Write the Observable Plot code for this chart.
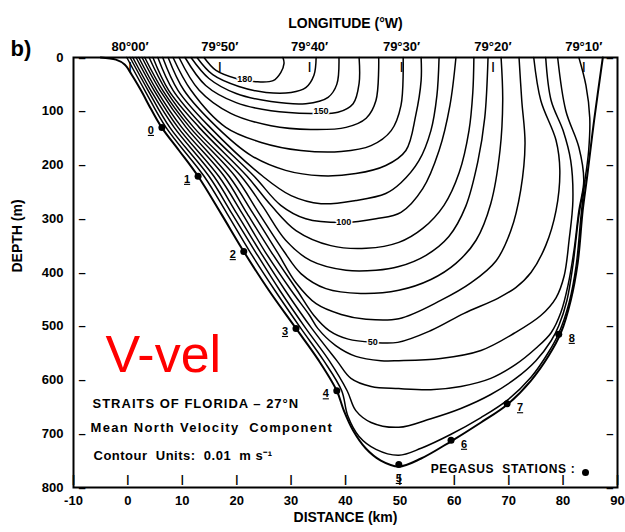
<!DOCTYPE html>
<html><head><meta charset="utf-8">
<script src="https://cdn.jsdelivr.net/npm/d3@7"></script>
<script src="https://cdn.jsdelivr.net/npm/@observablehq/plot@0.6"></script>
<style>
body{margin:0;background:#fff}
.stn text{text-decoration:underline}
.ls1 text{letter-spacing:1px}
.ls2 text{letter-spacing:1.3px}
.ls3 text{letter-spacing:0.5px}
.ls4 text{letter-spacing:0.7px}
</style></head><body><div id="chart"></div>
<script>
// Axis ticks
const distanceTicks = [-10, 0, 10, 20, 30, 40, 50, 60, 70, 80, 90];
const depthTicks = [0, 100, 200, 300, 400, 500, 600, 700, 800];
const lonLabels = ["80°00′", "79°50′", "79°40′", "79°30′", "79°20′", "79°10′"];
const lonKm = [0.4, 16.9, 33.4, 50.3, 67.1, 83.8];

// Bottom profile [distance km, depth m]
const bottom = [[-5.0,0],[-2.2,4],[-0.6,13],[0.7,32],[2.4,61],[4.2,95],[6.2,130],[9.4,173],[12.9,221],[17.1,290],[21.3,361],[25.9,433],[30.9,504],[35.1,564],[38.4,620],[39.7,657],[41.4,694],[43.7,727],[46.5,750],[49.8,761],[53.9,746],[59.4,714],[64.9,679],[69.7,646],[74.1,601],[77.4,554],[79.6,512],[81.4,452],[82.7,381],[83.6,285],[84.4,223],[85.7,117],[87.3,0]];

// Contours of mean north velocity (0.01 m/s), [distance km, depth m]
const c10 = [[-0.2,0],[3.1,61],[7.0,130],[14.0,221],[18.2,290],[22.4,361],[27.0,433],[31.8,504],[36.0,564],[39.3,620],[40.4,666],[42.5,705],[45.6,729],[49.8,740],[53.9,727],[59.4,701],[64.9,670],[69.7,638],[74.1,595],[77.4,547],[79.2,513],[81.1,456],[82.4,387],[83.3,294],[84.0,229]];
const c20 = [[0.4,0],[3.7,61],[7.7,130],[14.9,221],[19.1,290],[23.4,361],[27.9,433],[32.7,504],[37.0,564],[40.3,620],[41.9,657],[44.7,679],[49.8,688],[55.7,672],[61.2,653],[66.7,627],[71.3,597],[75.0,564],[77.8,527],[79.2,499],[80.7,452],[81.8,387],[82.9,294],[84.0,229],[84.7,173],[84.9,112],[84.2,52],[82.9,0]];
const c30 = [[0.9,0],[4.2,61],[8.5,130],[15.8,221],[20.0,290],[24.3,361],[28.9,433],[33.8,504],[38.4,564],[41.0,597],[44.7,612],[49.8,616],[55.7,618],[61.2,612],[66.7,597],[71.3,571],[75.0,541],[77.8,512],[79.6,474],[80.9,424],[82.0,359],[82.9,285],[83.8,229],[82.9,167],[80.5,99],[79.0,0]];
const c40 = [[1.5,0],[4.8,61],[9.2,130],[16.7,221],[21.0,290],[25.2,361],[30.0,433],[33.4,480],[34.9,504],[38.2,536],[41.9,556],[46.5,564],[49.8,564],[57.5,560],[64.9,545],[71.0,513],[75.9,480],[78.7,447],[80.2,406],[81.1,340],[81.8,266],[81.4,192],[80.0,136],[77.8,80],[76.8,0]];
const c50 = [[2.0,0],[5.3,61],[9.9,130],[17.7,221],[21.9,290],[26.3,361],[31.1,433],[34.2,480],[37.0,508],[40.5,524],[45.0,530],[49.6,530],[55.7,508],[61.8,476],[68.0,448],[71.3,428],[74.1,400],[76.8,350],[78.7,285],[79.4,210],[78.7,154],[75.9,80],[74.6,0]];
const c60 = [[2.6,0],[5.9,61],[10.7,130],[18.6,221],[23.0,290],[27.4,361],[30.9,419],[34.6,458],[39.2,478],[43.8,487],[49.8,486],[57.5,452],[63.1,419],[67.7,378],[70.4,322],[72.2,247],[73.0,160],[72.4,80],[71.9,0]];
const c70 = [[3.1,0],[6.4,61],[11.4,130],[19.7,221],[24.1,290],[28.7,361],[31.8,402],[36.4,430],[42.8,439],[49.8,433],[55.7,413],[60.3,383],[64.0,340],[66.7,272],[68.4,173],[68.9,80],[68.6,0]];
const c80 = [[3.9,0],[7.0,61],[12.1,130],[20.8,221],[24.8,277],[29.0,340],[33.6,378],[40.1,396],[45.6,396],[49.8,389],[54.8,368],[59.0,333],[62.1,277],[64.3,195],[65.6,112],[66.2,0]];
const c90 = [[4.6,0],[7.5,61],[13.1,130],[21.9,221],[26.3,275],[30.9,322],[37.3,350],[43.8,355],[49.8,344],[54.2,318],[58.1,275],[60.9,214],[62.7,136],[63.4,65],[63.6,0]];
const c100 = [[5.5,0],[8.3,61],[14.0,130],[23.2,221],[28.1,275],[32.7,300],[39.7,307],[45.6,300],[50.2,288],[54.2,244],[57.2,173],[59.2,89],[60.3,0]];
const c110 = [[6.4,0],[9.2,61],[15.1,130],[24.8,221],[30.0,257],[35.5,272],[41.9,266],[47.4,253],[50.2,233],[53.5,192],[55.7,136],[56.8,71],[57.2,0]];
const c120 = [[7.4,0],[10.3,61],[16.4,130],[22.6,182],[29.0,210],[35.5,220],[41.9,216],[47.4,201],[51.1,173],[52.9,108],[53.9,43],[53.9,0]];
const c130 = [[8.3,0],[11.6,61],[18.0,130],[24.5,158],[31.8,173],[39.2,175],[44.7,164],[48.4,136],[50.2,89],[50.6,0]];
const c140 = [[9.4,0],[13.1,61],[18.9,104],[26.3,127],[33.6,134],[40.1,130],[43.8,113],[45.6,80],[46.1,0]];
const c150 = [[10.5,0],[14.3,52],[19.9,84],[26.3,99],[33.6,104],[38.6,102],[41.4,86],[42.5,48],[42.5,0]];
const c160 = [[11.6,0],[14.9,39],[19.9,67],[26.3,82],[32.7,86],[36.8,74],[38.4,50],[38.8,0]];
const c170 = [[12.7,0],[15.6,32],[20.4,54],[25.4,65],[30.0,65],[32.7,56],[34.2,33],[34.6,0]];
const c180 = [[14.0,0],[16.2,24],[19.9,39],[23.5,45],[26.7,43],[28.1,28],[28.7,11],[28.5,0]];
const contourLevels = [10,20,30,40,50,60,70,80,90,100,110,120,130,140,150,160,170,180];
const contourLines = [c10,c20,c30,c40,c50,c60,c70,c80,c90,c100,c110,c120,c130,c140,c150,c160,c170,c180];

// Contour labels
const labelText = ["180", "150", "100", "50"];
const labelKm = [21.5, 35.5, 39.7, 45.0];
const labelDepth = [40, 100, 307, 530];

// Pegasus stations
const stationNames = [0,1,2,3,4,5,6,7,8];
const stationKm = [6.25, 12.9, 21.3, 30.9, 38.4, 49.8, 59.4, 69.7, 79.2];
const stationDepth = [130, 221, 361, 504, 620, 757, 712, 644, 515];

// Build tables
const contourRows = contourLines.flatMap((pts, i) => pts.map(([km, m]) => ({level: contourLevels[i], km, m})));
const bottomRows = bottom.map(([km, m]) => ({km, m}));
const labels = labelText.map((t, i) => ({t, km: labelKm[i], m: labelDepth[i]}));
const stations = stationNames.map((n, i) => ({n, km: stationKm[i], m: stationDepth[i]}));
const lonMap = new Map(lonKm.map((k, i) => [k, lonLabels[i]]));
const xTickRows = distanceTicks.map(v => ({v}));
const lonTickRows = lonKm.map(v => ({v}));
const yTickRows = depthTicks.map(v => ({v}));

const txt = (s, o) => Plot.text([s], {text: d => d, fontWeight: "bold", ...o});
const axisFont = {fontSize: 13, fontWeight: "bold"};

const chart = Plot.plot({
  width: 625, height: 532,
  marginLeft: 73, marginRight: 8, marginTop: 57, marginBottom: 45,
  x: {domain: [-10, 90]},
  y: {domain: [0, 800], reverse: true},
  style: {fontFamily: "'Liberation Sans', Arial, sans-serif", fontSize: "12px", background: "white", color: "black"},
  marks: [
    Plot.line(contourRows, {x: "km", y: "m", z: "level", curve: "catmull-rom", stroke: "black", strokeWidth: 1.5}),
    Plot.line(bottomRows, {x: "km", y: "m", curve: "catmull-rom", stroke: "black", strokeWidth: 2}),
    Plot.text(labels, {x: "km", y: "m", text: "t", fontSize: 9, fontWeight: "bold", stroke: "white", strokeWidth: 3, fill: "black"}),
    Plot.dot(stations, {x: "km", y: "m", r: 3.5, fill: "black"}),
    Plot.text(stations, {filter: d => d.n <= 4, x: "km", y: "m", text: "n", dx: -11, dy: 3, fontSize: 11, fontWeight: "bold", className: "stn"}),
    Plot.text(stations, {filter: d => d.n === 5, x: "km", y: "m", text: "n", dy: 14, fontSize: 11, fontWeight: "bold", className: "stn"}),
    Plot.text(stations, {filter: d => d.n >= 6, x: "km", y: "m", text: "n", dx: 13, dy: 4, fontSize: 11, fontWeight: "bold", className: "stn"}),
    // inward tick marks drawn as short dashes anchored at axis values
    Plot.text(xTickRows, {x: "v", frameAnchor: "bottom", text: () => "|", dy: -5, fontSize: 11, fontWeight: "bold"}),
    Plot.text(lonTickRows, {x: "v", frameAnchor: "top", text: () => "|", dy: 5, fontSize: 11, fontWeight: "bold"}),
    Plot.text(yTickRows, {y: "v", frameAnchor: "left", text: () => "–", dx: 5, textAnchor: "start", fontSize: 13, fontWeight: "bold"}),
    Plot.text(yTickRows, {y: "v", frameAnchor: "right", text: () => "–", dx: -4, fontSize: 13, fontWeight: "bold"}),
    Plot.frame({strokeWidth: 2}),
    // tick labels
    Plot.axisX({anchor: "bottom", ticks: distanceTicks, tickFormat: d => String(d), tickSize: 0, tickPadding: 8, label: null, ...axisFont}),
    Plot.axisX({anchor: "top", ticks: lonKm, tickFormat: d => lonMap.get(d), tickSize: 0, tickPadding: 7, label: null, ...axisFont}),
    Plot.axisY({anchor: "left", ticks: depthTicks, tickSize: 0, tickPadding: 10, label: null, ...axisFont}),
    txt("LONGITUDE (°W)", {frameAnchor: "top", dy: -39, fontSize: 14}),
    txt("DISTANCE (km)", {frameAnchor: "bottom", dy: 34, fontSize: 14}),
    txt("DEPTH (m)", {frameAnchor: "left", dx: -56, rotate: -90, fontSize: 14}),
    txt("b)", {frameAnchor: "top-left", dx: -63, dy: -17, fontSize: 22, textAnchor: "start"}),
    txt("STRAITS OF FLORIDA – 27°N", {frameAnchor: "bottom-left", dx: 19, dy: -80, fontSize: 13, textAnchor: "start", className: "ls1"}),
    txt("Mean North Velocity  Component", {frameAnchor: "bottom-left", dx: 17, dy: -56, fontSize: 13, textAnchor: "start", className: "ls2"}),
    txt("Contour  Units:  0.01  m s⁻¹", {frameAnchor: "bottom-left", dx: 20, dy: -28, fontSize: 13, textAnchor: "start", className: "ls3"}),
    txt("PEGASUS  STATIONS :", {frameAnchor: "bottom-right", dx: -42, dy: -15, fontSize: 12, textAnchor: "end", className: "ls4"}),
    Plot.dot([0], {frameAnchor: "bottom-right", dx: -32, dy: -15, r: 3.5, fill: "black"}),
    Plot.text(["V-vel"], {text: d => d, frameAnchor: "top-left", dx: 32, dy: 278, fontSize: 52, fill: "red", textAnchor: "start", fontFamily: "'Liberation Sans', Arial, sans-serif"})
  ]
});
document.getElementById("chart").appendChild(chart);
</script>
</body></html>
